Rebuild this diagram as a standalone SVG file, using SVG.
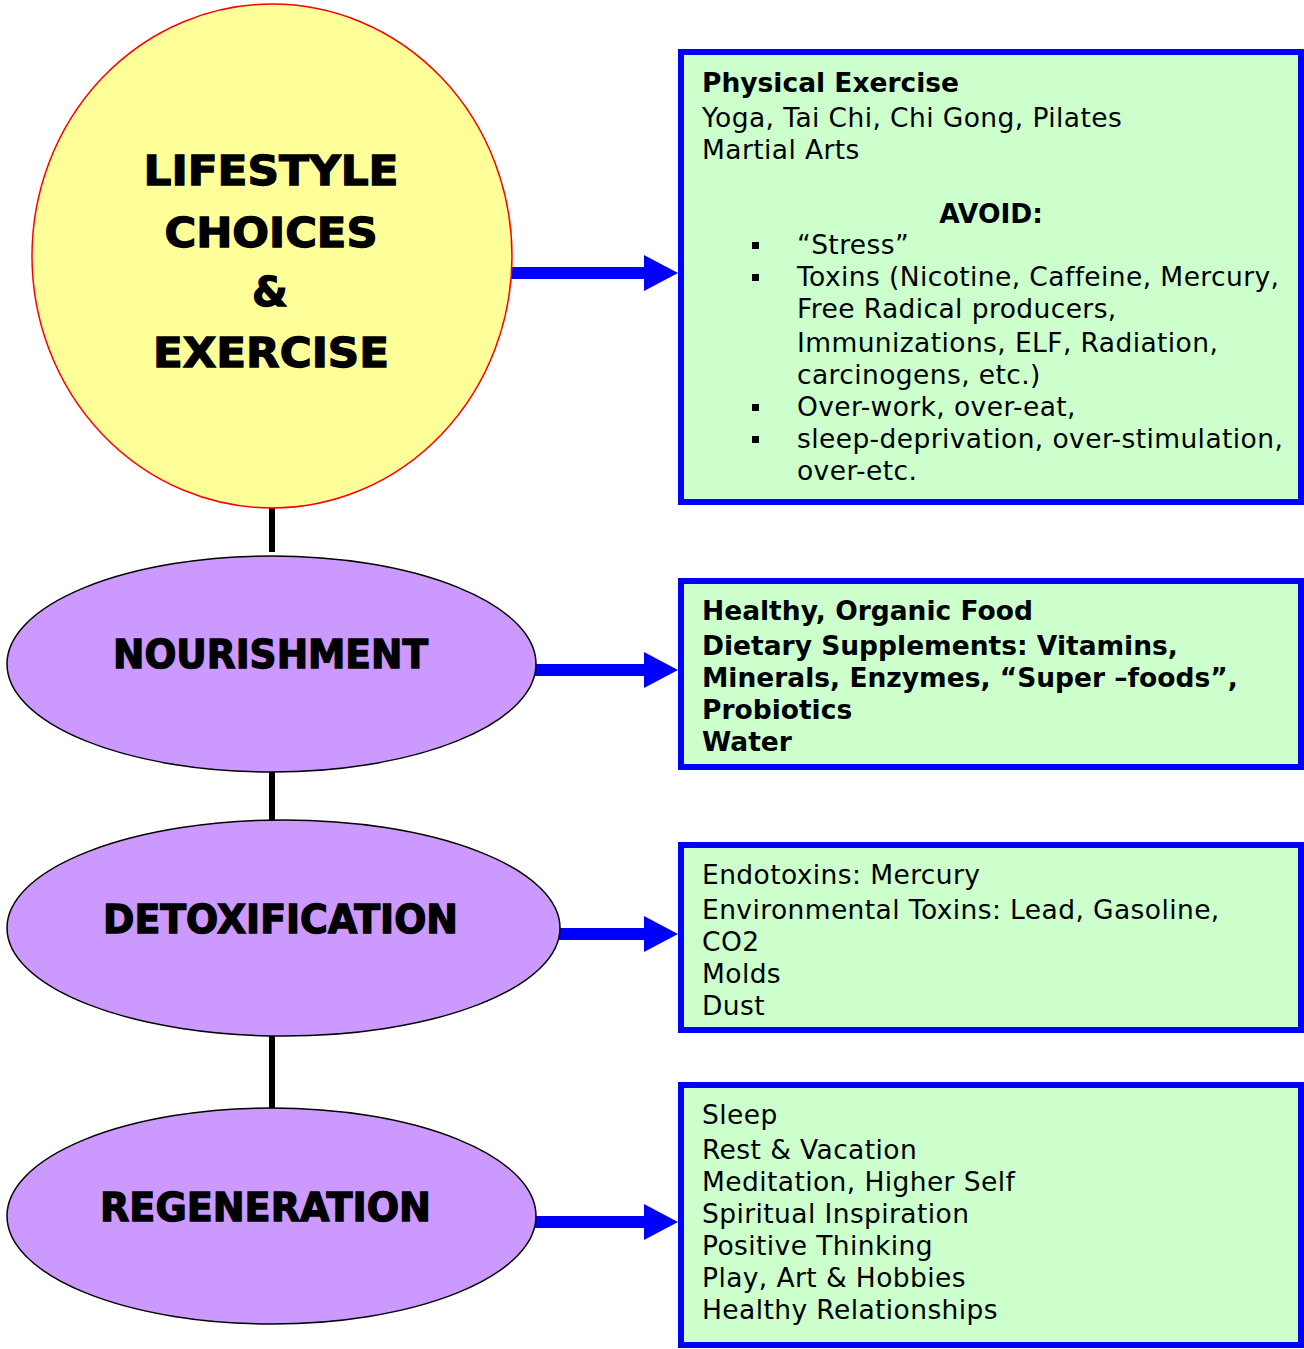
<svg xmlns="http://www.w3.org/2000/svg" width="1304" height="1349" viewBox="0 0 1304 1349">
<style>
.body{font-family:"DejaVu Sans",Verdana,sans-serif;font-size:26.5px;fill:#000;letter-spacing:0.4px}
.b{font-weight:bold;letter-spacing:0}
.head{font-family:"DejaVu Sans","Liberation Sans",sans-serif;font-weight:bold;fill:#000;stroke:#000;stroke-width:1.3;text-anchor:middle}
.box{fill:#CCFFCC;stroke:#0000FF;stroke-width:6}
.oval{fill:#CC99FF;stroke:#000;stroke-width:1.5}
.link{stroke:#000;stroke-width:6}
.shaft{stroke:#0000FF;stroke-width:12}
.tip{fill:#0000FF}
.bullet{fill:#000}
</style>
<rect width="1304" height="1349" fill="#fff"/>
<g id="connectors">
<line class="link" x1="272" y1="508" x2="272" y2="552"/>
<line class="link" x1="272" y1="772" x2="272" y2="820"/>
<line class="link" x1="272" y1="1036" x2="272" y2="1108"/>
<line class="shaft" x1="510" y1="273" x2="646" y2="273"/>
<polygon class="tip" points="644,255 678,273 644,291"/>
<line class="shaft" x1="535" y1="670" x2="646" y2="670"/>
<polygon class="tip" points="644,652 678,670 644,688"/>
<line class="shaft" x1="559" y1="934" x2="646" y2="934"/>
<polygon class="tip" points="644,916 678,934 644,952"/>
<line class="shaft" x1="535" y1="1222" x2="646" y2="1222"/>
<polygon class="tip" points="644,1204 678,1222 644,1240"/>
</g>
<g id="lifestyle">
<ellipse cx="272" cy="256" rx="240" ry="252" fill="#FFFF99" stroke="#FF0000" stroke-width="1.5"/>
<text class="head" x="271" y="185" font-size="41" textLength="255" lengthAdjust="spacingAndGlyphs">LIFESTYLE</text>
<text class="head" x="271" y="247" font-size="41" textLength="213" lengthAdjust="spacingAndGlyphs">CHOICES</text>
<text class="head" x="270" y="306" font-size="41">&amp;</text>
<text class="head" x="271" y="367" font-size="41" textLength="236" lengthAdjust="spacingAndGlyphs">EXERCISE</text>
</g>
<g id="nourishment">
<ellipse class="oval" cx="271.5" cy="664" rx="264.5" ry="108"/>
<text class="head" x="270.5" y="668" font-size="38.5" textLength="315" lengthAdjust="spacingAndGlyphs">NOURISHMENT</text>
</g>
<g id="detoxification">
<ellipse class="oval" cx="283.5" cy="928" rx="276.5" ry="108"/>
<text class="head" x="280.5" y="933" font-size="38.5" textLength="355" lengthAdjust="spacingAndGlyphs">DETOXIFICATION</text>
</g>
<g id="regeneration">
<ellipse class="oval" cx="271.5" cy="1216" rx="264.5" ry="108"/>
<text class="head" x="265.5" y="1221" font-size="38.5" textLength="331" lengthAdjust="spacingAndGlyphs">REGENERATION</text>
</g>
<g id="box-lifestyle">
<rect class="box" x="681" y="52" width="620" height="450"/>
<text class="body b" x="702" y="92">Physical Exercise</text>
<text class="body" x="702" y="127">Yoga, Tai Chi, Chi Gong, Pilates</text>
<text class="body" x="702" y="159">Martial Arts</text>
<text class="body b" x="991" y="223" text-anchor="middle">AVOID:</text>
<rect class="bullet" x="752" y="242" width="7" height="7"/>
<rect class="bullet" x="752" y="274" width="7" height="7"/>
<rect class="bullet" x="752" y="404" width="7" height="7"/>
<rect class="bullet" x="752" y="436" width="7" height="7"/>
<text class="body" x="797" y="254">“Stress”</text>
<text class="body" x="797" y="286">Toxins (Nicotine, Caffeine, Mercury,</text>
<text class="body" x="797" y="318">Free Radical producers,</text>
<text class="body" x="797" y="352">Immunizations, ELF, Radiation,</text>
<text class="body" x="797" y="384">carcinogens, etc.)</text>
<text class="body" x="797" y="416">Over-work, over-eat,</text>
<text class="body" x="797" y="448">sleep-deprivation, over-stimulation,</text>
<text class="body" x="797" y="480">over-etc.</text>
</g>
<g id="box-nourishment">
<rect class="box" x="681" y="581" width="620" height="186"/>
<text class="body b" x="702" y="620">Healthy, Organic Food</text>
<text class="body b" x="702" y="655">Dietary Supplements: Vitamins,</text>
<text class="body b" x="702" y="687">Minerals, Enzymes, “Super –foods”,</text>
<text class="body b" x="702" y="719">Probiotics</text>
<text class="body b" x="702" y="751">Water</text>
</g>
<g id="box-detoxification">
<rect class="box" x="681" y="845" width="620" height="185"/>
<text class="body" x="702" y="884">Endotoxins: Mercury</text>
<text class="body" x="702" y="919">Environmental Toxins: Lead, Gasoline,</text>
<text class="body" x="702" y="951">CO2</text>
<text class="body" x="702" y="983">Molds</text>
<text class="body" x="702" y="1015">Dust</text>
</g>
<g id="box-regeneration">
<rect class="box" x="681" y="1085" width="620" height="260"/>
<text class="body" x="702" y="1124">Sleep</text>
<text class="body" x="702" y="1159">Rest &amp; Vacation</text>
<text class="body" x="702" y="1191">Meditation, Higher Self</text>
<text class="body" x="702" y="1223">Spiritual Inspiration</text>
<text class="body" x="702" y="1255">Positive Thinking</text>
<text class="body" x="702" y="1287">Play, Art &amp; Hobbies</text>
<text class="body" x="702" y="1319">Healthy Relationships</text>
</g>
</svg>
